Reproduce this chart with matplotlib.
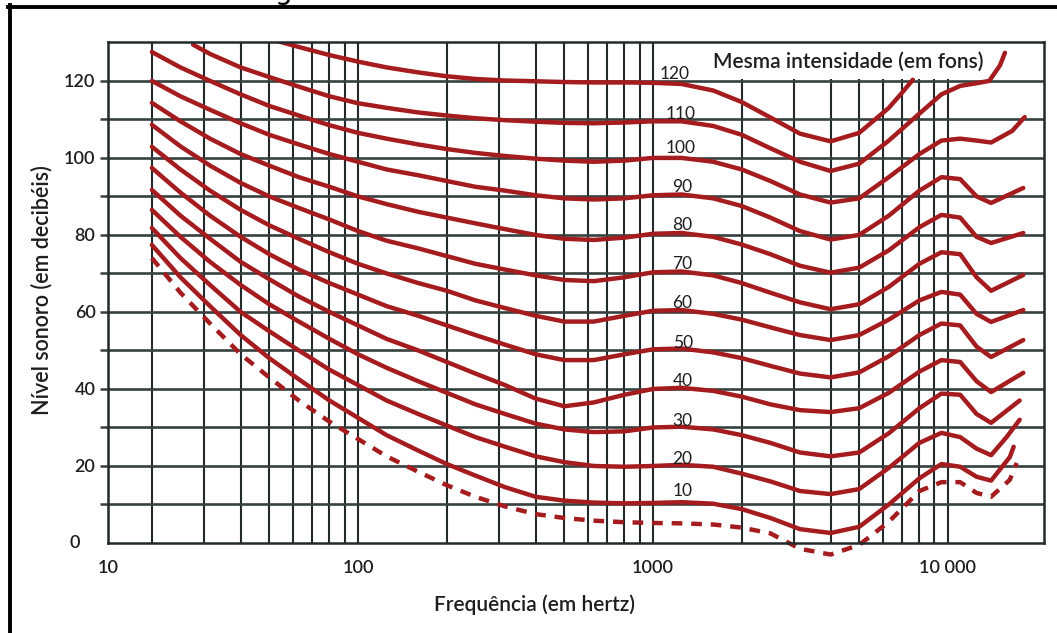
import matplotlib
matplotlib.use("Agg")
import matplotlib.pyplot as plt
from matplotlib.lines import Line2D
from matplotlib.patches import Rectangle
from matplotlib.ticker import FixedLocator, NullFormatter

plt.rcParams["font.family"] = ["Lato", "DejaVu Sans"]

RED = "#a51c1f"
VGRID = "#222a2c"
HGRID = "#36413f"
INK = "#1e1e1e"

# ---------- data (Hz, dB) ----------
FREQ = [20, 25, 31.5, 40, 50, 63, 80, 100, 125, 160, 200, 250, 315, 400, 500, 630, 800,
        1000, 1250, 1600, 2000, 2500, 3150, 4000, 5000, 6300, 8000, 9500, 11000, 12500, 14000]

thr_f = FREQ + [16200, 17100]
thr_db = [74, 65, 57, 49, 43, 37, 31.5, 27, 22.5, 18.5, 15, 12, 9.5, 7.5, 6.5, 5.8, 5.4,
          5.2, 5.1, 4.8, 4, 2.5, -1.5, -3, -0.5, 5.5, 13.5, 15.8, 15.8, 13, 12, 16.4, 20.8]

f10 = FREQ + [16200, 16700]
db10 = [77.4, 69, 61.5, 54, 48, 42.5, 37, 32.5, 28, 24, 20.5, 17.5, 14.5, 12, 11, 10.5, 10.3,
        10.4, 10.6, 10.2, 8.8, 6.5, 3.6, 2.6, 4.2, 10, 16.8, 20.5, 19.8, 17.2, 16.2, 22.3, 25]
f20 = FREQ + [15800, 17500]
db20 = [81.8, 74, 67, 60, 55, 50, 45, 41, 37, 33.5, 30.5, 27.5, 25, 22.5, 21, 20, 19.8,
        20, 20.3, 19.8, 18, 16, 13.5, 12.7, 14, 19.5, 26, 28.6, 27.5, 24.5, 22.8, 27.5, 32]
f30 = FREQ + [17500]
db30 = [86.5, 79.5, 73, 67, 62, 57.5, 53, 49, 45.5, 42, 39, 36, 33.5, 31, 29.5, 28.8, 29,
        30, 30.2, 29.5, 28, 26, 23.5, 22.5, 23.5, 28.5, 35, 38.8, 38.5, 33.5, 31.2, 37]
f40 = FREQ + [18000]
db40 = [91.7, 85, 79, 73, 68.5, 64, 60, 56.5, 53, 50, 47, 44, 41, 37.5, 35.5, 36.5, 38.5,
        40, 40.3, 39.5, 38, 36, 34.5, 34, 35, 39, 44.5, 47.5, 47, 42, 39.2, 44.2]
f50 = FREQ + [18000]
db50 = [97.4, 91, 85, 79.5, 75, 71, 67.5, 64.5, 61.5, 59, 56.5, 54, 51.5, 49, 47.5, 47.5, 49,
        50.3, 50.5, 49.5, 48, 46, 44, 43, 44.3, 48.5, 54, 57, 56.5, 51, 48.3, 52.7]
f60 = FREQ + [18000]
db60 = [102.9, 97, 91.5, 86.5, 82.5, 79, 75.5, 72.5, 70, 67.5, 65.5, 63, 61, 59, 57.5, 57.5, 59,
        60.3, 60.5, 59.5, 58, 56, 54, 52.7, 54, 58, 63, 65.2, 64.5, 59.5, 57.4, 60.5]
f70 = FREQ + [18000]
db70 = [108.6, 103, 98, 93.5, 90, 87, 84, 81, 78.5, 76.5, 74.5, 72.5, 71, 69.5, 68.3, 68, 69,
        70.3, 70.5, 69.5, 67.5, 65, 62.5, 60.7, 62, 66.5, 72.5, 75.5, 75, 69, 65.5, 69.6]
f80 = FREQ + [18000]
db80 = [114.3, 109.5, 105, 101, 98, 95, 92.5, 90, 88, 86, 84.5, 83, 81.5, 80, 79, 78.7, 79.3,
        80.3, 80.5, 79.5, 77.5, 75, 72, 70.2, 71.5, 76, 82, 85.2, 84.5, 79.5, 77.9, 80.5]
f90 = FREQ + [18000]
db90 = [120, 116, 112.5, 109, 106, 103.5, 101, 99, 97, 95.5, 94, 92.5, 91.5, 90.3, 89.5, 89.2,
        89.5, 90.3, 90.5, 89.5, 87.5, 84.5, 81, 78.8, 80, 85, 91.5, 95, 94.5, 90, 88.3, 92.2]
f100 = FREQ + [16500, 18200]
db100 = [127.5, 123.5, 120, 116.5, 113.5, 111, 108.5, 106.5, 105, 103.5, 102.3, 101.3, 100.5,
         99.8, 99.3, 99, 99.3, 100, 100, 99, 97, 94, 90.5, 88.4, 89.5, 95, 101, 104.5, 105,
         104.5, 104, 107, 110.6]
f110 = [27.6, 31.5, 40, 50, 63, 80, 100, 125, 160, 200, 250, 315, 400, 500, 630, 800, 1000,
        1250, 1600, 2000, 2500, 3150, 4000, 5000, 6300, 8000, 9500, 11000, 12500, 13800,
        15000, 15600]
db110 = [129.4, 127, 123.5, 121, 118.5, 116, 114.2, 113, 111.8, 111, 110.3, 109.8, 109.4,
         109.1, 109, 109.2, 109.5, 109.5, 108.3, 106, 102.5, 99, 96.6, 98.5, 104.5, 111.5,
         116.5, 118.7, 119.4, 120, 124, 127.3]
f120 = [52.4, 63, 80, 100, 125, 160, 200, 250, 315, 400, 500, 630, 800, 1000, 1250, 1600,
        2000, 2500, 3150, 4000, 5000, 6300, 7000, 7600]
db120 = [130.5, 128.8, 126.7, 125, 123.5, 122.2, 121.2, 120.5, 120.1, 119.9, 119.7, 119.6,
         119.6, 119.5, 119.2, 117.5, 114.5, 110.5, 106.3, 104.3, 106.5, 113, 117, 120.3]

curves = [(f10, db10), (f20, db20), (f30, db30), (f40, db40), (f50, db50), (f60, db60),
          (f70, db70), (f80, db80), (f90, db90), (f100, db100), (f110, db110), (f120, db120)]

phons = [10, 20, 30, 40, 50, 60, 70, 80, 90, 100, 110, 120]
label_f = [1260, 1260, 1260, 1260, 1260, 1260, 1260, 1260, 1260, 1240, 1240, 1180]
label_db = [13.5, 21.8, 31.7, 42.1, 52, 62.3, 72.5, 82.6, 92.5, 102.6, 111.4, 121.8]

x_minor = [20, 30, 40, 50, 60, 70, 80, 90, 200, 300, 400, 500, 600, 700, 800, 900,
           2000, 3000, 4000, 5000, 6000, 7000, 8000, 9000]
x_left, x_right = 14.2, 21160

# ---------- figure ----------
fig = plt.figure(figsize=(10.57, 6.33), dpi=100)
ax = fig.add_axes([108 / 1057, 90 / 633, 936 / 1057, 501 / 633])
ax.set_xscale("log")
ax.set_xlim(x_left, x_right)
ax.set_ylim(0, 130.1)

ax.xaxis.set_major_locator(FixedLocator([x_left, 100, 1000, 10000]))
ax.set_xticklabels(["10", "100", "1000", "10 000"])
ax.xaxis.set_minor_locator(FixedLocator(x_minor))
ax.xaxis.set_minor_formatter(NullFormatter())
ax.tick_params(axis="x", which="both", length=0, pad=12, labelsize=13, labelcolor=INK)

yt = list(range(10, 121, 10))
ax.set_yticks(yt)
ax.set_yticklabels([str(v) if v % 20 == 0 else "" for v in yt])
ax.tick_params(axis="y", length=6, width=1.8, color=HGRID, direction="out", pad=3,
               labelsize=13, labelcolor=INK)
for lab in ax.get_xticklabels() + ax.get_yticklabels():
    lab.set_fontweight("semibold")
ax.text(-0.03, 0, "0", transform=ax.get_yaxis_transform(), ha="right", va="center",
        fontsize=13, color=INK, fontweight="semibold")

ax.set_axisbelow(True)
ax.grid(True, which="both", axis="x", color=VGRID, lw=1.5)
ax.grid(True, which="major", axis="y", color=HGRID, lw=1.9)
for sp in ax.spines.values():
    sp.set_color(VGRID)
    sp.set_linewidth(1.8)

# the caption box above the 120 line has no grid in it
ax.add_patch(Rectangle((1012, 120.4), x_right - 1012, 12, facecolor="white",
                       edgecolor="none", zorder=1))

for f, db in curves:
    ax.plot(f, db, color=RED, lw=3.2, solid_capstyle="round", solid_joinstyle="round",
            zorder=2)
ax.plot(thr_f, thr_db, color=RED, lw=3.2, linestyle=(0, (2.4, 2.0)), clip_on=False,
        zorder=2)

for p, fx, y in zip(phons, label_f, label_db):
    ax.text(fx, y, str(p), ha="center", va="center", fontsize=12.5, color=INK, zorder=3)

ax.text(4600, 125, "Mesma intensidade (em fons)", ha="center", va="center",
        fontsize=15, color=INK, fontweight="semibold", zorder=3)

fig.text(534 / 1057, 1 - 605 / 633, "Frequência (em hertz)", ha="center", va="center",
         fontsize=15, color=INK, fontweight="semibold")
fig.text(42 / 1057, 1 - 290 / 633, "Nível sonoro (em decibéis)", ha="center", va="center",
         rotation=90, fontsize=15.5, color=INK, fontweight="semibold")

# outer frame of the page (top and left only) and the clipped glyph above it
fig.add_artist(Line2D([8 / 1057, 1], [1 - 6.5 / 633] * 2, color="black", lw=2.8))
fig.add_artist(Line2D([10 / 1057] * 2, [0, 1 - 5 / 633], color="black", lw=2.8))
fig.text(283 / 1057, 1 + 1 / 633, "g", fontsize=20, ha="center", va="baseline",
         family=["DejaVu Sans"])

fig.savefig("out.png", dpi=100)
